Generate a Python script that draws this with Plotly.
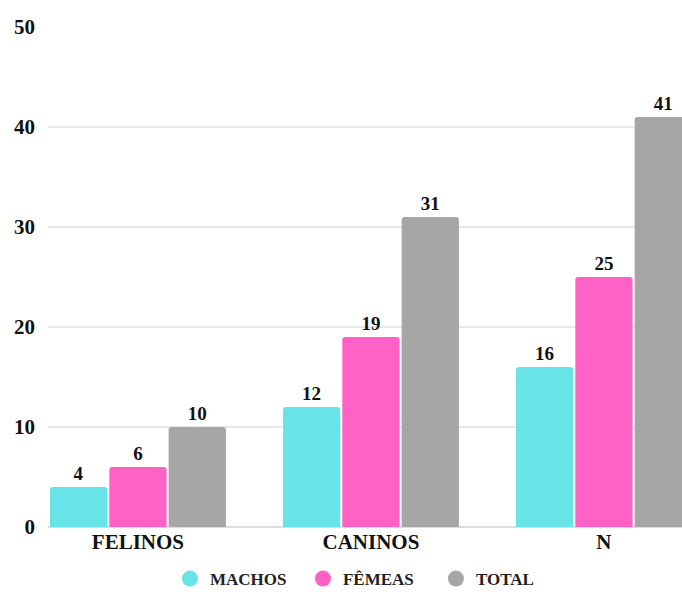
import plotly.graph_objects as go

categories = ["FELINOS", "CANINOS", "N"]
series_names = ["MACHOS", "FÊMEAS", "TOTAL"]
machos = [4, 12, 16]
femeas = [6, 19, 25]
total = [10, 31, 41]
y_ticks = [0, 10, 20, 30, 40, 50]

colors = ["#68E3E8", "#FF62C4", "#A6A6A6"]
FONT = "Liberation Serif, Times New Roman, serif"

fig = go.Figure()
for name, vals, col in zip(series_names, [machos, femeas, total], colors):
    fig.add_trace(go.Bar(
        x=categories, y=vals, name=name,
        marker=dict(color=col, cornerradius=3, line=dict(width=0)),
        text=[str(v) for v in vals], textposition="outside",
        textfont=dict(family=FONT, size=19, color="#111", weight="bold"),
        cliponaxis=True, showlegend=False,
    ))
# legend entries with circular markers
for name, col in zip(series_names, colors):
    fig.add_trace(go.Scatter(
        x=[None], y=[None], mode="markers", name=name,
        marker=dict(color=col, size=18, symbol="circle"),
        showlegend=True,
    ))

fig.update_layout(
    width=682, height=594,
    margin=dict(l=48, r=0, t=27, b=67, autoexpand=False),
    paper_bgcolor="white", plot_bgcolor="white",
    barmode="group", bargap=0.236, bargroupgap=0.035,
    font=dict(family=FONT, color="#111", weight="bold"),
    legend=dict(orientation="h", x=0.507, xanchor="center", y=-0.068, yanchor="top",
                font=dict(family=FONT, size=17, color="#222", weight="bold"),
                itemsizing="trace", itemwidth=30, tracegroupgap=0, entrywidth=88),
    xaxis=dict(range=[-0.386, 2.335], showgrid=False, showline=False, zeroline=False,
               ticks="", tickfont=dict(family=FONT, size=21, color="#111", weight="bold")),
    yaxis=dict(range=[0, 50], tickvals=y_ticks, showgrid=True, gridcolor="#E8E8E8",
               gridwidth=1.5, zeroline=True, zerolinecolor="#DDDDDD", zerolinewidth=1.5,
               showline=False, ticks="", ticklabelstandoff=12,
               tickfont=dict(family=FONT, size=21, color="#111", weight="bold")),
)
fig.write_html("out.html")
